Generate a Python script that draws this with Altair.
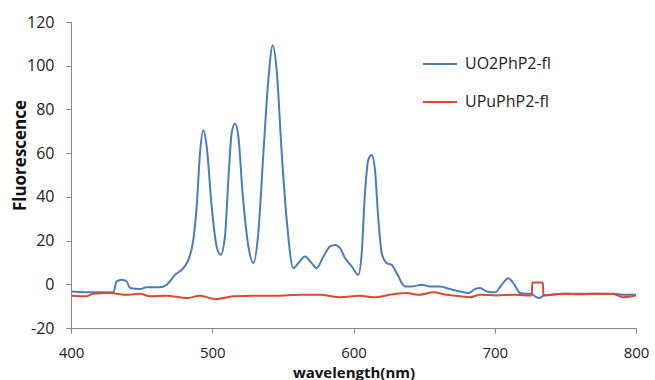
import altair as alt
import pandas as pd

series = ["UO2PhP2-fl", "UPuPhP2-fl"]
colors = ["#4a7ebb", "#dd4a30"]

blue_nm = [400.5, 415.8, 430.0, 432.3, 435.9, 439.4, 441.8, 448.9, 453.6, 463.0, 467.7,
           473.6, 479.5, 483.1, 486.6, 489.0, 491.3, 493.7, 496.1, 499.6, 503.1, 506.0,
           509.0, 511.4, 513.7, 516.1, 518.5, 521.5, 525.6, 529.1, 532.6, 536.2, 539.7,
           542.8, 545.6, 549.2, 552.7, 557.4, 561.0, 565.7, 570.4, 573.9, 578.7, 583.4,
           586.9, 590.5, 594.0, 598.7, 603.4, 605.8, 608.1, 610.5, 612.9, 615.2, 617.6,
           620.0, 623.5, 627.0, 630.6, 636.5, 641.2, 648.3, 654.2, 661.2, 668.3, 675.4,
           681.3, 686.0, 689.6, 694.3, 700.2, 704.9, 709.6, 713.2, 717.9, 721.4, 726.2,
           728.5, 732.0, 734.4, 739.1, 748.6, 760.4, 772.2, 784.0, 791.0, 800.0]
blue_val = [-3.3, -3.7, -3.7, 1.3, 2.1, 1.3, -1.7, -2.2, -1.3, -1.4, -0.2,
            4.3, 7.4, 11.2, 20.3, 35.5, 59.9, 70.5, 62.9, 35.5, 17.3, 13.5,
            21.9, 47.7, 69.0, 73.6, 67.5, 41.6, 17.3, 9.7, 23.4, 59.9, 93.4,
            109.4, 98.0, 59.9, 29.5, 7.4, 9.7, 12.7, 9.7, 7.4, 12.7, 17.3,
            18.0, 16.5, 12.0, 8.2, 4.3, 14.2, 41.6, 56.9, 59.1, 52.3, 29.5,
            14.2, 9.7, 8.9, 5.1, -1.0, -1.0, -0.2, -1.0, -1.0, -2.2, -3.3,
            -4.0, -2.2, -1.7, -3.3, -3.7, -0.2, 2.8, 0.5, -4.0, -4.3, -4.3,
            -5.5, -6.3, -5.1, -4.8, -4.3, -4.3, -4.3, -4.3, -4.8, -4.8]

red_nm = [400.5, 411.1, 415.8, 427.6, 439.4, 448.9, 455.9, 467.7, 481.9, 491.3, 502.0,
          514.9, 529.1, 545.6, 562.1, 576.3, 590.5, 604.6, 614.0, 625.9, 630.6, 637.6,
          647.1, 656.5, 666.0, 675.4, 682.5, 689.6, 701.4, 713.2, 722.6, 726.2, 726.6,
          734.1, 734.4, 748.6, 760.4, 772.2, 784.0, 791.0, 800.0]
red_val = [-5.2, -5.5, -4.3, -4.0, -4.8, -4.3, -5.5, -5.2, -6.3, -5.2, -6.8,
           -5.5, -5.2, -5.2, -4.8, -4.8, -5.9, -5.2, -5.9, -4.8, -4.3, -4.0,
           -4.8, -3.7, -4.8, -5.5, -5.9, -4.8, -5.1, -4.8, -5.1, -5.1, 0.8,
           0.8, -5.1, -4.3, -4.6, -4.3, -4.4, -5.9, -5.1]

df = pd.concat([
    pd.DataFrame({"wavelength": blue_nm, "fluor": blue_val, "series": series[0],
                  "idx": range(len(blue_nm))}),
    pd.DataFrame({"wavelength": red_nm, "fluor": red_val, "series": series[1],
                  "idx": range(len(red_nm))}),
])

FONT = "Open Sans"

chart = alt.Chart(df).mark_line(strokeWidth=2, interpolate="monotone").encode(
    x=alt.X("wavelength:Q",
            scale=alt.Scale(domain=[400, 800], nice=False, zero=False),
            axis=alt.Axis(values=[400, 500, 600, 700, 800], title="wavelength(nm)",
                          labelPadding=12, labelFontSize=15, labelFlush=False,
                          labelExpr="'' + datum.value",
                          titleFontSize=15, titleBaseline="top", titleY=37)),
    y=alt.Y("fluor:Q",
            scale=alt.Scale(domain=[-20, 120], nice=False),
            axis=alt.Axis(values=list(range(-20, 121, 20)), title="Fluorescence",
                          labelPadding=12, labelFontSize=16, labelFlush=False,
                          labelExpr="'' + datum.value",
                          titleFontSize=17, titleBaseline="alphabetic",
                          titleX=-46, titleY=133)),
    color=alt.Color("series:N",
                    scale=alt.Scale(domain=series, range=colors),
                    legend=alt.Legend(title=None, orient="none", legendX=351, legendY=24,
                                      symbolType="stroke", symbolSize=1156,
                                      symbolStrokeWidth=2, labelFontSize=16,
                                      labelFont=FONT, labelColor="#222222",
                                      rowPadding=12, labelOffset=7)),
    order="idx:Q",
).properties(
    width=565, height=306,
    autosize=alt.AutoSizeParams(type="none"),
    padding={"left": 71, "top": 22, "right": 19, "bottom": 52},
    background="white",
).configure_view(stroke=None).configure_axis(
    grid=False,
    domainColor="#868686",
    tickColor="#868686",
    tickSize=5,
    labelFont=FONT,
    labelColor="#222222",
    titleFont=FONT,
    titleFontWeight="bold",
    titleColor="#111111",
)

chart.save("out.html", embed_options={"renderer": "svg", "actions": False})
